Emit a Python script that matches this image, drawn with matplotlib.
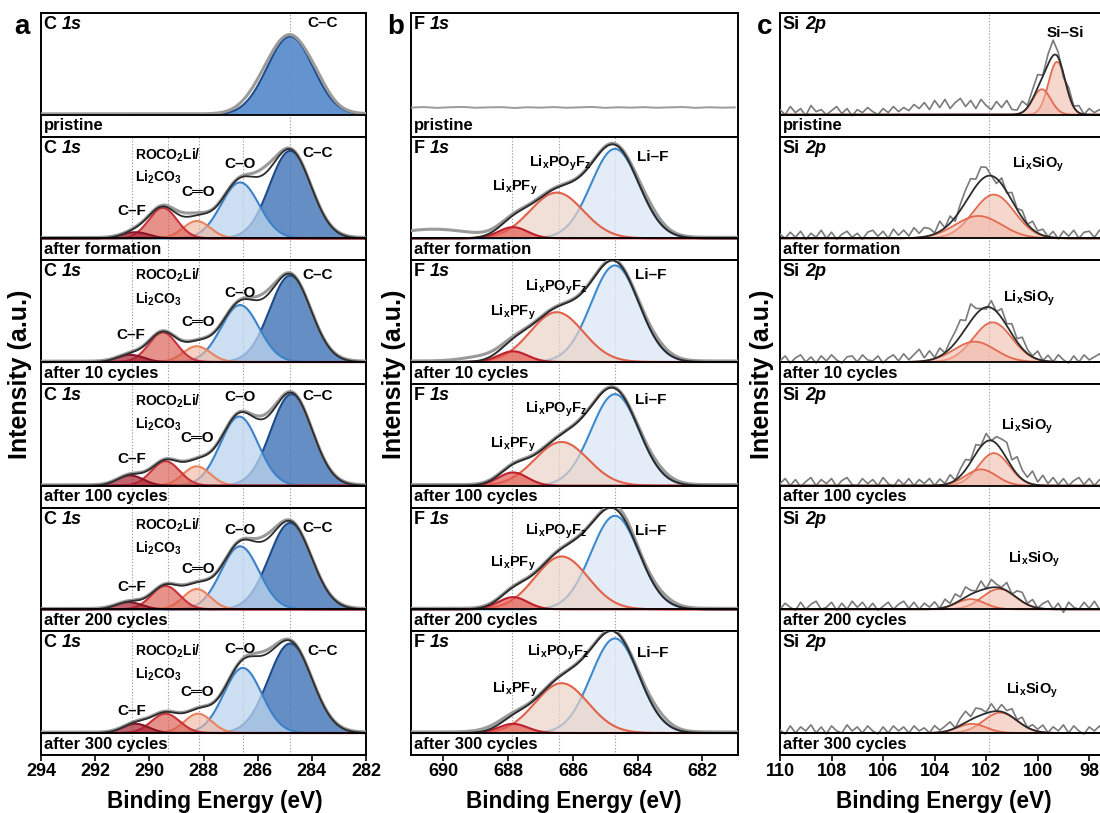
import numpy as np
import matplotlib
matplotlib.use("Agg")
import matplotlib.pyplot as plt

plt.rcParams["font.family"] = ["Liberation Sans", "DejaVu Sans"]
plt.rcParams["font.weight"] = "bold"
plt.rcParams["mathtext.fontset"] = "custom"
plt.rcParams["mathtext.rm"] = "Liberation Sans:bold"
plt.rcParams["mathtext.it"] = "Liberation Sans:bold:italic"
plt.rcParams["mathtext.bf"] = "Liberation Sans:bold"

# ---------------- data ----------------
states = ["pristine", "after formation", "after 10 cycles",
          "after 100 cycles", "after 200 cycles", "after 300 cycles"]

# C 1s components: C-C, C-O, C=O, ROCO2Li/Li2CO3, C-F
c_names = ["C–C", "C–O", "C═O", "ROCO", "C–F"]
c_centers = [
    [284.8, 286.65, 288.25, 289.5, 290.6],
    [284.8, 286.65, 288.25, 289.5, 290.5],
    [284.8, 286.65, 288.25, 289.5, 290.7],
    [284.75, 286.68, 288.25, 289.4, 290.7],
    [284.8, 286.65, 288.25, 289.4, 290.75],
    [284.8, 286.55, 288.2, 289.4, 290.5],
]
c_heights = [
    [0.77, 0.0, 0.0, 0.0, 0.0],
    [0.86, 0.55, 0.17, 0.30, 0.06],
    [0.85, 0.56, 0.155, 0.29, 0.07],
    [0.90, 0.68, 0.19, 0.24, 0.10],
    [0.85, 0.62, 0.20, 0.23, 0.07],
    [0.88, 0.64, 0.19, 0.19, 0.09],
]
c_sigmas = [
    [0.85, 0.70, 0.50, 0.52, 0.48],
    [0.76, 0.70, 0.50, 0.52, 0.48],
    [0.76, 0.70, 0.50, 0.52, 0.48],
    [0.76, 0.70, 0.50, 0.52, 0.48],
    [0.78, 0.70, 0.50, 0.52, 0.48],
    [0.80, 0.70, 0.50, 0.52, 0.48],
]
# deviations of the measured C 1s curve from the fit: (centre, height, sigma)
c_raw_extra = [
    [(286.0, 0.06, 0.6), (283.7, 0.04, 0.4)],
    [(285.75, 0.06, 0.35), (288.7, 0.03, 0.4)],
    [(285.75, 0.04, 0.35)],
    [(285.7, 0.03, 0.35)],
    [(285.7, 0.04, 0.35)],
    [(285.75, 0.03, 0.4)],
]

# F 1s components: Li-F, LixPOyFz, LixPFy (pristine: no peaks)
f_names = ["Li–F", "POF", "PF"]
f_centers = [
    [684.7, 686.5, 687.85],
    [684.7, 686.5, 687.85],
    [684.7, 686.5, 687.85],
    [684.7, 686.35, 687.85],
    [684.7, 686.35, 687.85],
    [684.7, 686.35, 687.85],
]
f_heights = [
    [0.0, 0.0, 0.0],
    [0.88, 0.45, 0.11],
    [0.95, 0.49, 0.105],
    [0.90, 0.43, 0.13],
    [0.92, 0.52, 0.12],
    [0.93, 0.49, 0.09],
]
f_sigmas = [0.74, 0.82, 0.45]
f_raw_extra = [
    [],
    [(690.3, 0.08, 1.1), (683.6, 0.04, 0.4)],
    [(688.8, 0.04, 0.6), (683.4, 0.03, 0.4)],
    [(683.4, 0.03, 0.4)],
    [(684.4, 0.03, 0.3), (683.3, 0.03, 0.4)],
    [(683.4, 0.04, 0.4), (688.4, 0.02, 0.5)],
]
f_pristine_raw = [0.070, 0.075, 0.067, 0.073, 0.076, 0.068, 0.072, 0.074, 0.066,
                  0.073, 0.069, 0.075, 0.068, 0.072, 0.076, 0.067, 0.073, 0.069,
                  0.074, 0.068, 0.072, 0.075, 0.067, 0.073, 0.069, 0.071]

# Si 2p components (major, minor)
si_centers = [[99.25, 99.84], [101.7, 102.3], [101.75, 102.45],
              [101.7, 102.2], [101.5, 102.6], [101.45, 102.55]]
si_heights = [[0.52, 0.25], [0.43, 0.22], [0.39, 0.20],
              [0.32, 0.16], [0.20, 0.10], [0.20, 0.09]]
si_sigmas = [[0.33, 0.35], [0.80, 0.90], [0.75, 0.80],
             [0.60, 0.60], [0.65, 0.55], [0.65, 0.55]]
# measured-minus-fit residuals on a 0.2 eV grid from 110 eV downwards
si_resid = [
    [0.05, 0.00, 0.08, 0.02, 0.06, -0.01, 0.09, 0.03, 0.05, 0.00, 0.04, 0.08, 0.01, 0.06,
     -0.01, 0.05, 0.02, 0.07, 0.03, 0.00, 0.06, 0.02, 0.08, 0.03, 0.07, 0.04, 0.10,
     0.06, 0.12, 0.05, 0.14, 0.07, 0.15, 0.06, 0.12, 0.16, 0.08, 0.14, 0.06, 0.15,
     0.09, 0.05, 0.13, 0.07, 0.14, 0.05,
     0.04, 0.11, 0.02, 0.09, 0.13, 0.01, 0.10, 0.15, 0.05, -0.04, 0.06, 0.01, 0.07,
     0.00, 0.06, 0.02, 0.05, 0.01],
    [0.04, 0.00, 0.06, 0.01, 0.07, -0.01, 0.05, 0.01, 0.08, 0.00, 0.06, -0.01, 0.04, 0.07,
     0.01, 0.05, -0.01, 0.06, 0.08, 0.02, 0.07, 0.00, 0.09, 0.03, 0.08, 0.02, 0.10, 0.04,
     0.09,
     0.07, 0.01, 0.10, 0.00, 0.07, -0.04, 0.06, 0.12, 0.15, 0.07, 0.13, 0.09, 0.00,
     -0.05, 0.06, -0.01, 0.08, 0.01, 0.07, 0.00, 0.08, 0.02, 0.06,
     0.00, 0.06, -0.01, 0.07, 0.02, 0.08, 0.00, 0.06, 0.07, 0.01, 0.08, 0.03],
    [0.01, 0.06, -0.01, 0.04, 0.07, 0.00, 0.05, -0.01, 0.06, 0.01, 0.07, 0.02, -0.01, 0.05,
     0.06, 0.00, 0.07, 0.02, 0.01, 0.06, -0.01, 0.04, 0.07, 0.01, 0.08, 0.02, 0.07, 0.12,
     0.03,
     0.09, 0.01, 0.08, 0.00, 0.07, 0.11, 0.16, 0.08, 0.17, 0.06, 0.01, -0.02, 0.07, 0.00,
     0.09, 0.02, 0.10, 0.03, 0.11, 0.04, 0.01, 0.08, 0.00,
     0.06, 0.00, 0.07, 0.02, -0.01, 0.06, 0.00, 0.07, 0.02, 0.05, 0.08, 0.01],
    [0.02, 0.07, 0.00, 0.06, -0.01, 0.04, 0.08, 0.00, 0.06, 0.02, 0.07, -0.01, 0.05, 0.08,
     0.01, 0.00, 0.07, 0.02, 0.06, 0.00, 0.08, 0.02, -0.01, 0.06, 0.01, 0.07, 0.00, 0.06,
     0.02,
     0.07, 0.00, 0.06, 0.01, 0.08, 0.00, 0.07, 0.10, 0.02, 0.09, 0.01, 0.08, 0.00, 0.07,
     0.11, 0.16, 0.07, 0.17, 0.09, 0.05, 0.13, 0.03, 0.10,
     0.02, 0.08, 0.01, 0.07, 0.00, 0.05, 0.08, 0.01, 0.07, 0.00, 0.06, 0.02],
    [0.00, 0.06, 0.02, -0.01, 0.07, 0.00, 0.05, 0.08, 0.00, 0.02, 0.07, -0.01, 0.06, 0.00,
     0.08, 0.02, 0.07, 0.00, 0.06, -0.01, 0.03, 0.07, 0.00, 0.05, 0.08, 0.01, 0.07, 0.00,
     0.06,
     0.02, 0.07, 0.00, 0.08, 0.02, 0.09, 0.03, 0.10, 0.04, 0.01, 0.09, 0.00, 0.08, 0.03,
     0.01, 0.08, 0.00, 0.07, 0.09, 0.01, 0.07, 0.00, 0.05,
     0.08, 0.00, 0.06, -0.03, 0.07, 0.02, 0.00, 0.07, 0.01, 0.08, 0.00, 0.06],
    [0.03, -0.01, 0.07, 0.00, 0.06, 0.02, 0.08, 0.00, 0.06, -0.01, 0.07, 0.02, 0.00, 0.08,
     0.02, 0.06, 0.00, 0.07, 0.02, -0.01, 0.06, 0.00, 0.07, 0.02, 0.06, 0.00, 0.07, 0.02,
     0.05,
     0.00, 0.07, 0.02, 0.05, 0.08, 0.00, 0.07, 0.11, 0.03, 0.09, 0.06, 0.01, 0.08, 0.00,
     0.07, 0.03, 0.08, 0.01, 0.07, 0.00, 0.05, 0.02, 0.07,
     0.00, 0.06, 0.02, 0.08, 0.00, 0.07, 0.02, -0.01, 0.06, 0.02, 0.07, 0.00],
]

c_ref_lines = [290.65, 289.3, 288.17, 286.56, 284.79]
f_ref_lines = [687.87, 686.42, 684.69]
si_ref_lines = [101.9]

c_ticks = [294, 292, 290, 288, 286, 284, 282]
f_ticks = [690, 688, 686, 684, 682]
si_ticks = [110, 108, 106, 104, 102, 100, 98]

# ---------------- styles / layout ----------------
c_fill = ["#3a6fb5", "#bcd4ee", "#f2b8a2", "#d9584c", "#a61e30"]
c_fill_alpha = [0.78, 0.75, 0.65, 0.65, 0.70]
c_edge = ["#1c4a8a", "#3b82c8", "#e9835f", "#c8323a", "#8c1427"]
f_fill = ["#dbe8f5", "#ead3c6", "#e35a50"]
f_fill_alpha = [0.75, 0.70, 0.70]
f_edge = ["#3d8ad0", "#e2614a", "#c01f2e"]
si_fill, si_edge = "#f0b7a6", "#e36a4e"
RAW_C, ENV_C = "#9a9a9a", "#2b2b2b"

c_label_pos = [
    {"C–C": (283.6, 0.90)},
    {"C–C": (283.77, 0.84), "C–O": (286.65, 0.73), "C═O": (288.2, 0.46),
     "R1": (290.53, 0.82), "R2": (290.53, 0.60), "C–F": (290.65, 0.27)},
    {"C–C": (283.8, 0.855), "C–O": (286.65, 0.68), "C═O": (288.2, 0.39),
     "R1": (290.53, 0.855), "R2": (290.53, 0.615), "C–F": (290.7, 0.27)},
    {"C–C": (283.8, 0.88), "C–O": (286.65, 0.87), "C═O": (288.25, 0.47),
     "R1": (290.53, 0.83), "R2": (290.53, 0.60), "C–F": (290.65, 0.26)},
    {"C–C": (283.8, 0.80), "C–O": (286.65, 0.78), "C═O": (288.2, 0.40),
     "R1": (290.53, 0.83), "R2": (290.53, 0.60), "C–F": (290.65, 0.22)},
    {"C–C": (283.6, 0.81), "C–O": (286.65, 0.83), "C═O": (288.25, 0.40),
     "R1": (290.53, 0.80), "R2": (290.53, 0.58), "C–F": (290.65, 0.22)},
]
f_label_pos = [
    {},
    {"Li–F": (683.55, 0.80), "POF": (686.4, 0.735), "PF": (687.8, 0.50)},
    {"Li–F": (683.6, 0.86), "POF": (686.5, 0.73), "PF": (687.87, 0.49)},
    {"Li–F": (683.6, 0.84), "POF": (686.5, 0.755), "PF": (687.85, 0.41)},
    {"Li–F": (683.6, 0.77), "POF": (686.5, 0.77), "PF": (687.87, 0.45)},
    {"Li–F": (683.55, 0.79), "POF": (686.46, 0.79), "PF": (687.8, 0.43)},
]
si_label_pos = [(98.93, 0.80), (99.97, 0.73), (100.33, 0.63),
                (100.4, 0.58), (100.15, 0.49), (100.2, 0.42)]

label_text = {
    "C–C": "C–C", "C–O": "C–O", "C═O": "C═O", "C–F": "C–F",
    "R1": r"ROCO$_\mathrm{2}$Li/", "R2": r"Li$_\mathrm{2}$CO$_\mathrm{3}$",
    "Li–F": "Li–F", "POF": r"Li$_\mathrm{x}$PO$_\mathrm{y}$F$_\mathrm{z}$",
    "PF": r"Li$_\mathrm{x}$PF$_\mathrm{y}$",
    "SiSi": "Si–Si", "SiO": r"Li$_\mathrm{x}$SiO$_\mathrm{y}$",
}
label_size = {"R1": 10, "R2": 10, "POF": 10.5, "PF": 10.5, "SiO": 10.5}

W, H = 1100, 813
col_px = [(41, 366), (411, 738), (780, 1115)]
col_xlim = [(294, 282), (691.0, 680.9), (110, 97)]
top_px, bot_px = 13, 755
ph = (bot_px - top_px) / 6.0
strip_frac = 22.0 / ph
YMIN = -strip_frac / (1 - strip_frac)


def gauss(x, c, h, s):
    return h * np.exp(-0.5 * ((x - c) / s) ** 2)


fig = plt.figure(figsize=(W / 100, H / 100), dpi=100)


def make_ax(j, i, elem, orb):
    l, r = col_px[j]
    t = top_px + i * ph
    ax = fig.add_axes([l / W, 1 - (t + ph) / H, (r - l) / W, ph / H])
    ax.set_xlim(*col_xlim[j])
    ax.set_ylim(YMIN, 1.0)
    ax.set_yticks([])
    for s in ax.spines.values():
        s.set_linewidth(1.4)
    ax.text(0.008, YMIN / 2, states[i], transform=ax.get_yaxis_transform(),
            ha="left", va="center", fontsize=12, fontweight="bold", zorder=9)
    t1 = ax.text(0.008, 0.975, elem, transform=ax.transAxes, ha="left", va="top",
                 fontsize=13, fontweight="bold", zorder=9)
    ax.annotate(orb, xy=(1, 0), xycoords=t1, xytext=(3.6, 0),
                textcoords="offset points", ha="left", va="bottom",
                fontsize=13, fontweight="bold", style="italic", zorder=9)
    if i == 5:
        ticks = [c_ticks, f_ticks, si_ticks][j]
        ax.set_xticks(ticks)
        ax.set_xticklabels([str(v) for v in ticks])
        ax.tick_params(axis="x", direction="out", length=4, width=1.2,
                       labelsize=13, pad=2)
    else:
        ax.set_xticks([])
    return ax


def vlines(ax, xs):
    for xv in xs:
        ax.axvline(xv, color="#a0a0a0", lw=0.8, ls=(0, (1.2, 1.6)), zorder=1)


def label(ax, key, pos, ha="center"):
    ax.text(pos[0], pos[1], label_text[key], ha=ha, va="center",
            fontsize=label_size.get(key, 11), fontweight="bold", zorder=9)


# ---------- column a: C 1s ----------
xc = np.linspace(294, 282, 600)
for i in range(6):
    ax = make_ax(0, i, "C", "1s")
    vlines(ax, [284.79] if i == 0 else c_ref_lines)
    env = np.zeros_like(xc)
    ncomp = 0
    for k in range(5):
        h = c_heights[i][k]
        if h <= 0:
            continue
        ncomp += 1
        y = gauss(xc, c_centers[i][k], h, c_sigmas[i][k])
        env += y
        if i == 0:
            ax.fill_between(xc, 0, y, color="#5289cb", alpha=0.9, lw=0, zorder=2)
        else:
            ax.fill_between(xc, 0, y, color=c_fill[k], alpha=c_fill_alpha[k],
                            lw=0, zorder=2 + 0.1 * k)
        ax.plot(xc, y, color=c_edge[k], lw=1.5, zorder=2.05 + 0.1 * k)
    raw = env.copy() + 0.008
    for (cc, hh, ss) in c_raw_extra[i]:
        raw += gauss(xc, cc, hh, ss)
    ax.plot(xc, raw, color=RAW_C, lw=2.2, zorder=4)
    if ncomp > 1:
        ax.plot(xc, env, color=ENV_C, lw=1.3, zorder=4.5)
    ax.axhline(0, color="k", lw=1.3, zorder=6)
    for key, pos in c_label_pos[i].items():
        label(ax, key, pos, ha="left" if key in ("R1", "R2") else "center")

# ---------- column b: F 1s ----------
xf = np.linspace(691.0, 680.9, 600)
for i in range(6):
    ax = make_ax(1, i, "F", "1s")
    if i == 0:
        xg = 691.0 - 0.4 * np.arange(len(f_pristine_raw))
        ax.plot(xg, f_pristine_raw, color=RAW_C, lw=1.4, zorder=4)
        continue
    vlines(ax, f_ref_lines)
    env = np.zeros_like(xf)
    for k in range(3):
        y = gauss(xf, f_centers[i][k], f_heights[i][k], f_sigmas[k])
        env += y
        ax.fill_between(xf, 0, y, color=f_fill[k], alpha=f_fill_alpha[k],
                        lw=0, zorder=2 + 0.1 * k)
        ax.plot(xf, y, color=f_edge[k], lw=1.5, zorder=2.05 + 0.1 * k)
    raw = env.copy() + 0.01
    for (cc, hh, ss) in f_raw_extra[i]:
        raw += gauss(xf, cc, hh, ss)
    ax.plot(xf, raw, color=RAW_C, lw=2.2, zorder=4)
    ax.plot(xf, env, color=ENV_C, lw=1.4, zorder=4.5)
    ax.axhline(0, color="k", lw=1.3, zorder=6)
    for key, pos in f_label_pos[i].items():
        label(ax, key, pos)

# ---------- column c: Si 2p ----------
xs = np.linspace(110, 97, 600)
for i in range(6):
    ax = make_ax(2, i, "Si", "2p")
    vlines(ax, si_ref_lines)
    env = np.zeros_like(xs)
    for k in range(2):
        y = gauss(xs, si_centers[i][k], si_heights[i][k], si_sigmas[i][k])
        env += y
        ax.fill_between(xs, 0, y, color=si_fill, alpha=0.55, lw=0, zorder=2 + 0.1 * k)
        ax.plot(xs, y, color=si_edge, lw=1.3, zorder=2.05 + 0.1 * k)
    xg = 110 - 0.2 * np.arange(len(si_resid[i]))
    envg = np.zeros_like(xg)
    for k in range(2):
        envg += gauss(xg, si_centers[i][k], si_heights[i][k], si_sigmas[i][k])
    ax.plot(xg, envg + np.array(si_resid[i]), color="#7a7a7a", lw=1.2, zorder=4)
    ax.plot(xs, env, color=ENV_C, lw=1.3, zorder=4.5)
    ax.axhline(0, color="k", lw=1.3, zorder=6)
    label(ax, "SiSi" if i == 0 else "SiO", si_label_pos[i])

# ---------- figure-level texts ----------
for xpx, letter in [(21.5, "a"), (395.5, "b"), (765, "c")]:
    fig.text(xpx / W, 1 - 27 / H, letter, ha="center", va="center",
             fontsize=20, fontweight="bold")
for xpx in [20, 394, 762]:
    fig.text(xpx / W, 1 - 374 / H, "Intensity (a.u.)", rotation=90,
             ha="center", va="center", fontsize=18, fontweight="bold")
for xpx in [215, 574, 944]:
    fig.text(xpx / W, 1 - 801 / H, "Binding Energy (eV)", ha="center",
             va="center", fontsize=16.3, fontweight="bold")

fig.savefig("out.png", dpi=100)
